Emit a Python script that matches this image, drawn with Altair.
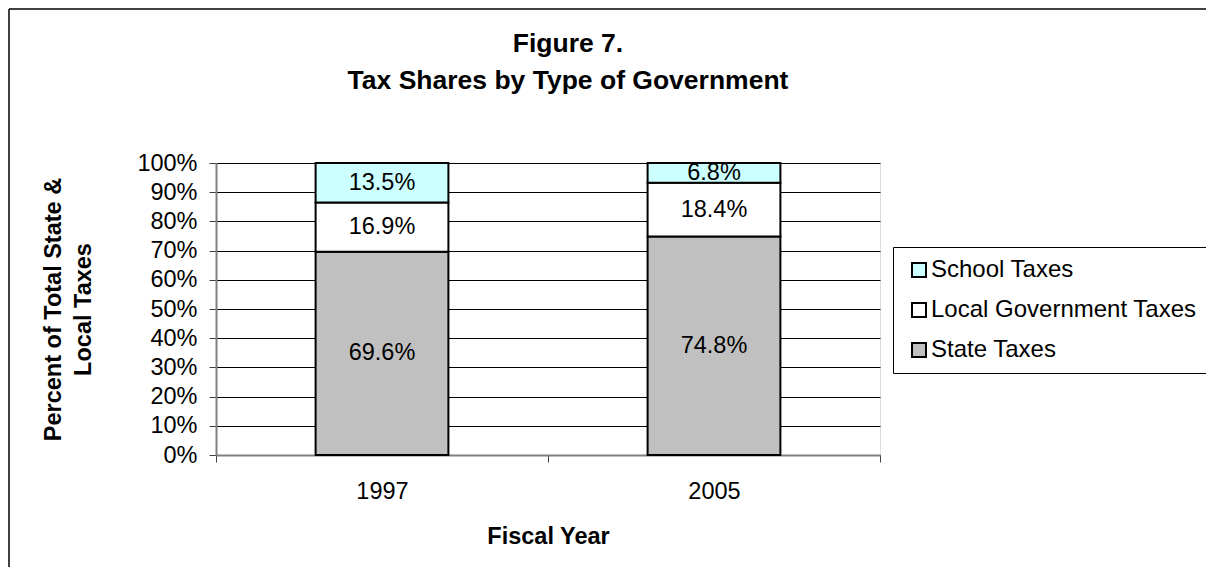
import altair as alt
import pandas as pd

# ---- data ----
years = ["1997", "2005"]
categories = ["State Taxes", "Local Government Taxes", "School Taxes"]
state_taxes = [69.6, 74.8]
local_taxes = [16.9, 18.4]
school_taxes = [13.5, 6.8]
y_ticks = [0, 10, 20, 30, 40, 50, 60, 70, 80, 90, 100]

legend_order = ["School Taxes", "Local Government Taxes", "State Taxes"]
legend_colors = ["#CCFFFF", "#FFFFFF", "#C0C0C0"]

series = [state_taxes, local_taxes, school_taxes]
rows = []
for i, yr in enumerate(years):
    for k, cat in enumerate(categories):
        v = series[k][i]
        rows.append({"year": yr, "type": cat, "value": v, "order": k,
                     "label": f"{v:.1f}%"})
df = pd.DataFrame(rows)

FONT = "Liberation Sans"
FS = 23.5

base = alt.Chart(df).transform_stack(
    stack="value", groupby=["year"], as_=["y0", "y1"],
    sort=[alt.SortField("order", order="ascending")]
).transform_calculate(mid="(datum.y0 + datum.y1) / 2")

x_scale = alt.Scale(paddingInner=0, paddingOuter=0)
x_axis = alt.Axis(
    title="Fiscal Year", titleFontSize=FS, titleFontWeight="bold",
    titleFont=FONT, titleColor="black", titlePadding=22,
    labelFont=FONT, labelFontSize=FS, labelColor="black", labelAngle=0,
    labelPadding=17, tickBand="extent", tickSize=7, tickColor="#404040",
    domainColor="#808080", domainWidth=2, grid=False,
)
y_scale = alt.Scale(domain=[0, 100], nice=False)
y_axis = alt.Axis(
    values=y_ticks, labelExpr="datum.value + '%'",
    labelOverlap=False,
    labelFont=FONT, labelFontSize=FS, labelColor="black",
    labelPadding=12, tickSize=7, tickColor="#404040",
    domainColor="#808080", domainWidth=2,
    grid=True, gridColor="black", gridWidth=1,
    title=["Percent of Total State &", "Local Taxes"],
    titleFont=FONT, titleFontSize=FS, titleFontWeight="bold",
    titleColor="black", titleAngle=270, titleAlign="center",
    titleBaseline="top", titleX=-175, titleY=146,
    titleLineHeight=30,
)

bars = base.mark_bar(
    stroke="black", strokeWidth=2, width=alt.RelativeBandSize(0.4)
).encode(
    x=alt.X("year:N", scale=x_scale, axis=x_axis),
    y=alt.Y("y0:Q", scale=y_scale, axis=y_axis),
    y2="y1:Q",
    color=alt.Color(
        "type:N",
        scale=alt.Scale(domain=legend_order, range=legend_colors),
        legend=alt.Legend(
            title=None, orient="none", legendX=677, legendY=84,
            labelFont=FONT, labelFontSize=24, labelColor="black",
            labelLimit=500,
            symbolType="square", symbolSize=196, symbolStrokeColor="black",
            symbolStrokeWidth=2, symbolOffset=3, labelOffset=0,
            rowPadding=16, padding=11, strokeColor="black",
            fillColor="white",
        ),
    ),
)

labels = base.mark_text(
    font=FONT, fontSize=FS, color="black", baseline="middle"
).encode(
    x=alt.X("year:N", scale=x_scale, axis=x_axis),
    y=alt.Y("mid:Q", scale=y_scale, axis=y_axis),
    text="label:N",
)

frame_data = alt.Data(values=[{}])
top_edge = alt.Chart(frame_data).mark_rule(
    color="black", strokeWidth=1.5
).encode(
    x=alt.value(-207), x2=alt.value(1200), y=alt.value(-154),
)
left_edge = alt.Chart(frame_data).mark_rule(
    color="black", strokeWidth=1.5
).encode(
    x=alt.value(-207), y=alt.value(-154), y2=alt.value(700),
)

chart = alt.layer(top_edge, left_edge, bars, labels).properties(
    width=664,
    height=292,
    autosize=alt.AutoSizeParams(type="none"),
    padding={"left": 208, "top": 155, "right": 326, "bottom": 112},
    title=alt.TitleParams(
        text=["Figure 7.", "Tax Shares by Type of Government"],
        font=FONT, fontSize=26.5, fontWeight="bold", color="black",
        lineHeight=37, anchor="middle", frame="group", dx=20,
        baseline="bottom", offset=-113,
    ),
).configure_view(strokeWidth=0, stroke="transparent").configure(background="white")

chart.save("out.html", embed_options={"renderer": "svg", "actions": False})
